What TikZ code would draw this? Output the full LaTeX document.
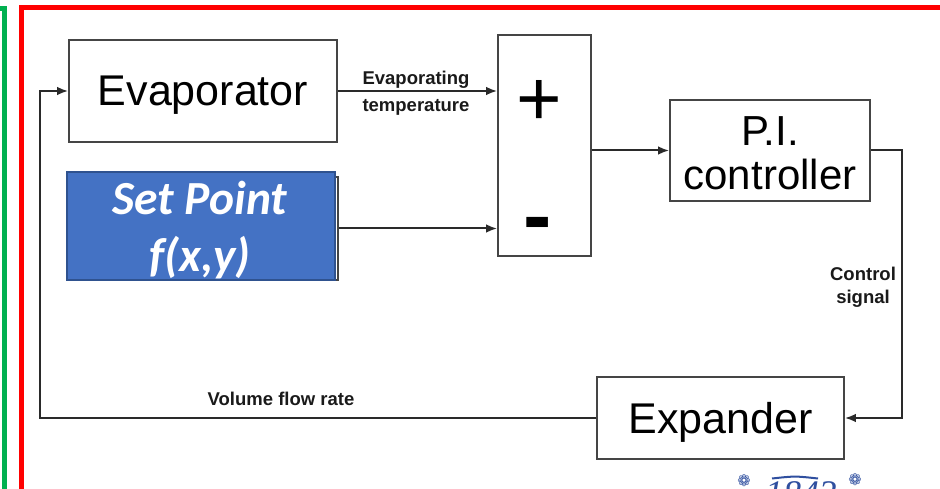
\documentclass[tikz,border=0pt]{standalone}
\usepackage{fontspec}
\setmainfont{Liberation Sans}
\newfontfamily\calfont{Carlito}
\newfontfamily\serifit{Liberation Serif}
\newfontfamily\djv{DejaVu Sans}
\usetikzlibrary{arrows.meta,calc}
\definecolor{boxgray}{HTML}{454545}
\definecolor{linegray}{HTML}{2A2A2A}
\definecolor{labcol}{HTML}{1A1A1A}
\definecolor{spfill}{HTML}{4472C4}
\definecolor{spdraw}{HTML}{2F528F}
\definecolor{frgreen}{HTML}{00B050}
\definecolor{frred}{HTML}{FF0000}
\definecolor{logoblue}{HTML}{2F4F9F}
\begin{document}
\begin{tikzpicture}[x=1pt,y=-1pt,
  box/.style={draw=boxgray, line width=1.6pt, inner sep=0pt, fill=white},
  conn/.style={draw=linegray, line width=2pt},
  arr/.style={conn, -{Latex[length=11pt,width=8.5pt]}},
  lab/.style={font=\fontsize{18.5}{23}\selectfont\bfseries, text=labcol, align=center, inner sep=0pt},
  bigtext/.style={font=\fontsize{43}{47}\selectfont, align=center, text=black}
]
\useasboundingbox (0,0) rectangle (940,489);
\begin{scope}
\clip (0,0) rectangle (940,489);
% frames
\draw[frgreen, line width=5pt] (-10,8.5) -- (4.5,8.5) -- (4.5,500);
\draw[frred, line width=5pt] (21.5,500) -- (21.5,7.5) -- (950,7.5);
% logo
\node[text=logoblue, font=\djv\fontsize{16}{16}\selectfont, inner sep=0pt] (icona) at (744,480.5) {❁};
\node[text=logoblue, font=\djv\fontsize{16}{16}\selectfont, inner sep=0pt] (iconb) at (855,479.5) {❁};
\node[text=logoblue, font=\serifit\itshape\fontsize{36}{36}\selectfont, inner sep=0pt, anchor=base] (year) at (801,505) {1843};
\draw[logoblue, line width=2pt] (772,478.5) .. controls (795,476) .. (818,478.5);
\end{scope}

% blocks
\node[box, minimum width=268pt, minimum height=102pt, bigtext, text depth=0pt] (evap) at (203,91) {Evaporator};
\node[draw=boxgray, line width=1.2pt, minimum width=270pt, minimum height=103pt, inner sep=0pt] (spbox) at (203,228.5) {};
\node[draw=spdraw, fill=spfill, line width=1.5pt, minimum width=268pt, minimum height=108pt, inner sep=0pt] (setpoint) at (201,226) {};
\node[text=white, font=\calfont\bfseries\itshape\fontsize{47.5}{57}\selectfont, align=center, inner sep=0pt] (sptext) at (200,230) {Set Point\\f(x,y)};
\node[box, minimum width=93pt, minimum height=221pt] (sum) at (544.5,145.5) {};
\node[font=\fontsize{78}{78}\selectfont, inner sep=0pt] (plus) at (539,102.5) {+};
\node[font=\bfseries\fontsize{85}{85}\selectfont, inner sep=0pt, anchor=base] (minus) at (537.5,244) {-};
\node[box, minimum width=200pt, minimum height=101pt] (pi) at (770,150.5) {};
\node[font=\fontsize{42}{44}\selectfont, align=center, inner sep=0pt] (pitext) at (770,153) {P.I.\\controller};
\node[box, minimum width=247pt, minimum height=82pt, bigtext, text depth=0pt] (exp) at (720.5,418) {Expander};

% connectors
\coordinate (rt) at (902,150.5);
\coordinate (lb) at (40,418);
\draw[arr] (evap.east) -- (evap.east -| sum.west);
\draw[arr] (spbox.east) -- (spbox.east -| sum.west);
\draw[arr] (sum.east |- pi.west) -- (pi.west);
\draw[arr] (pi.east) -- (rt) -- (rt |- exp.east) -- (exp.east);
\draw[arr] (exp.west) -- (lb) -- (lb |- evap.west) -- (evap.west);

% labels
\node[lab, anchor=base] (evlab1) at (416,85) {Evaporating};
\node[lab, anchor=base] (evlab2) at (416,112) {temperature};
\node[lab] (ctl) at (863,287) {Control\\signal};
\node[lab, anchor=base] (vol) at (281,405) {Volume flow rate};
\end{tikzpicture}
\end{document}
